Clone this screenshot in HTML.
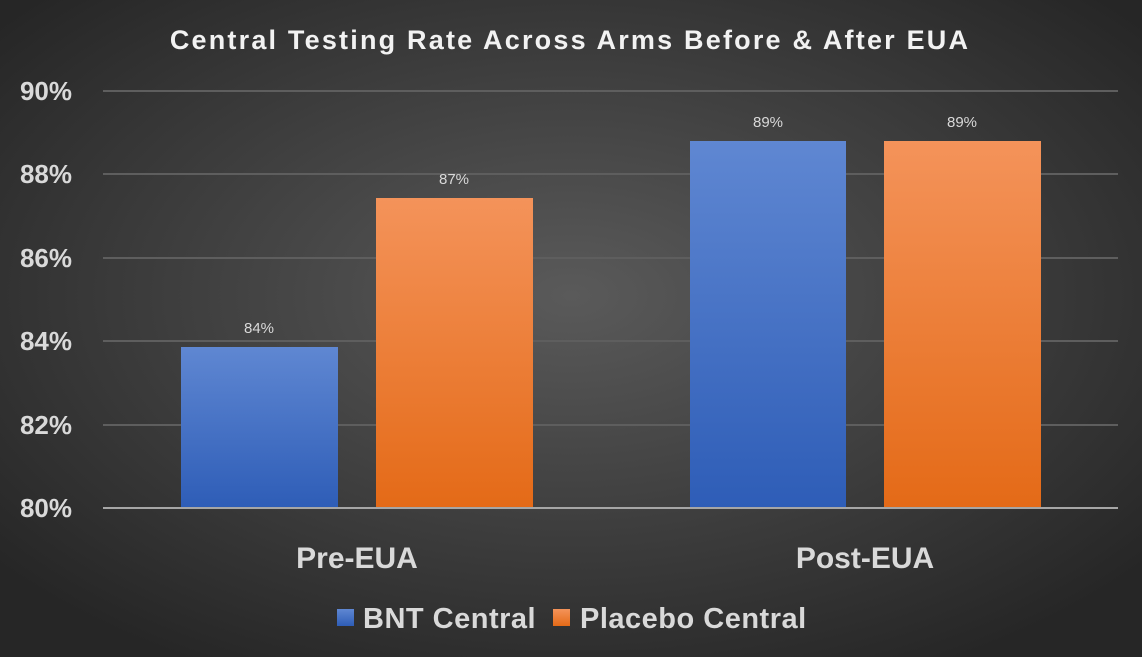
<!DOCTYPE html>
<html><head><style>
html,body{margin:0;padding:0;background:#333;}
svg{display:block;}
text{font-family:"Liberation Sans",sans-serif;}
</style></head><body>
<svg width="1142" height="657" viewBox="0 0 1142 657" xmlns="http://www.w3.org/2000/svg">
<defs>
<radialGradient id="bg" cx="50%" cy="45%" r="65%">
<stop offset="0" stop-color="#5a5a5a"/><stop offset="1" stop-color="#262626"/>
</radialGradient>
<linearGradient id="bl" x1="0" y1="0" x2="0" y2="1">
<stop offset="0" stop-color="#5f87d2"/><stop offset="1" stop-color="#2e5db7"/>
</linearGradient>
<linearGradient id="or" x1="0" y1="0" x2="0" y2="1">
<stop offset="0" stop-color="#f4935a"/><stop offset="1" stop-color="#e46a17"/>
</linearGradient>
</defs>
<rect width="1142" height="657" fill="url(#bg)"/>
<text x="570" y="49" text-anchor="middle" fill="#f2f2f2" font-size="27" font-weight="bold" letter-spacing="2.2">Central Testing Rate Across Arms Before &amp; After EUA</text>
<g stroke="#5e5e5e" stroke-width="2">
<line x1="103" y1="91" x2="1118" y2="91"/>
<line x1="103" y1="174" x2="1118" y2="174"/>
<line x1="103" y1="258" x2="1118" y2="258"/>
<line x1="103" y1="341" x2="1118" y2="341"/>
<line x1="103" y1="425" x2="1118" y2="425"/>
</g>
<g fill="#d9d9d9" font-size="26" font-weight="bold" text-anchor="end">
<text x="72" y="100">90%</text>
<text x="72" y="183">88%</text>
<text x="72" y="267">86%</text>
<text x="72" y="350">84%</text>
<text x="72" y="434">82%</text>
<text x="72" y="517">80%</text>
</g>
<rect x="181" y="347" width="157" height="161" fill="url(#bl)"/>
<rect x="376" y="198" width="157" height="310" fill="url(#or)"/>
<rect x="690" y="141" width="156" height="367" fill="url(#bl)"/>
<rect x="884" y="141" width="157" height="367" fill="url(#or)"/>
<line x1="103" y1="508" x2="1118" y2="508" stroke="#a6a6a6" stroke-width="2"/>
<g fill="#d9d9d9" font-size="15" text-anchor="middle">
<text x="259" y="333">84%</text>
<text x="454" y="184">87%</text>
<text x="768" y="127">89%</text>
<text x="962" y="127">89%</text>
</g>
<g fill="#d9d9d9" font-size="30" font-weight="bold" text-anchor="middle">
<text x="357" y="568">Pre-EUA</text>
<text x="865" y="568">Post-EUA</text>
</g>
<rect x="337" y="609" width="17" height="17" fill="url(#bl)"/>
<rect x="553" y="609" width="17" height="17" fill="url(#or)"/>
<g fill="#d9d9d9" font-size="29" font-weight="bold" letter-spacing="0.5">
<text x="363" y="628">BNT Central</text>
<text x="580" y="628">Placebo Central</text>
</g>
</svg>
</body></html>
